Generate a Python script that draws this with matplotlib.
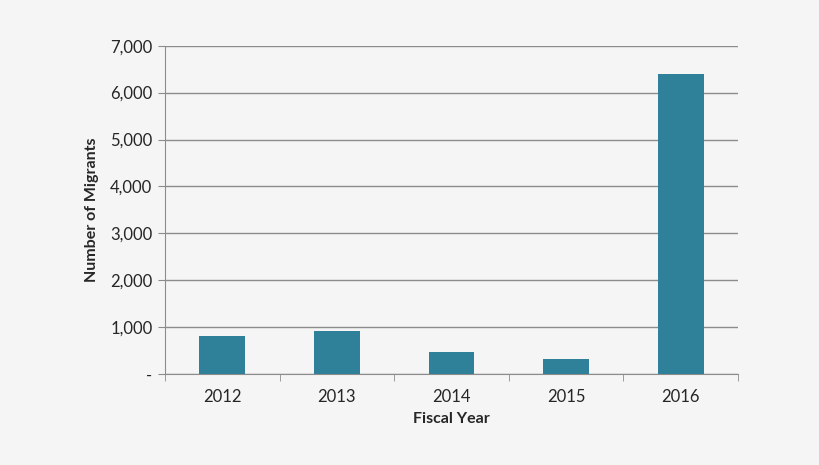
import numpy as np
import matplotlib.pyplot as plt
from matplotlib.ticker import FuncFormatter

years = ["2012", "2013", "2014", "2015", "2016"]
migrants = [817, 923, 469, 320, 6403]

plt.rcParams['font.family'] = ['Lato', 'DejaVu Sans']

bg = "#f5f5f5"
fig = plt.figure(figsize=(8.2, 4.65), dpi=100, facecolor=bg)
ax = fig.add_axes([0.2012, 0.1957, 0.6988, 0.706], facecolor=bg)

x = np.arange(len(years))
ax.bar(x, migrants, width=0.4, color="#2e8199", zorder=3)

ax.set_xlim(-0.5, len(years) - 0.5)
ax.set_ylim(0, 7000)
ax.set_yticks(np.arange(0, 7001, 1000))
ax.yaxis.set_major_formatter(FuncFormatter(lambda v, p: "-" if v == 0 else f"{int(v):,}"))
ax.grid(axis="y", color="#8c8c8c", linewidth=1, zorder=1)

ax.set_xticks(x)
ax.set_xticklabels(years)
ax.set_xticks(np.arange(-0.5, len(years), 1), minor=True)
ax.tick_params(axis="x", which="major", length=0, pad=11, labelsize=12, labelcolor="#262626")
ax.tick_params(axis="x", which="minor", length=5, color="#8c8c8c", direction="out")
ax.tick_params(axis="y", length=5, color="#8c8c8c", labelsize=12, labelcolor="#262626", pad=4)

for s in ["top", "right"]:
    ax.spines[s].set_visible(False)
for s in ["left", "bottom"]:
    ax.spines[s].set_color("#8c8c8c")

ax.set_xlabel("Fiscal Year", fontsize=11.5, fontweight="bold", color="#262626", labelpad=5)
ax.set_ylabel("Number of Migrants", fontsize=11.5, fontweight="bold", color="#262626", labelpad=8)

fig.savefig("out.png", dpi=100, facecolor=bg)
